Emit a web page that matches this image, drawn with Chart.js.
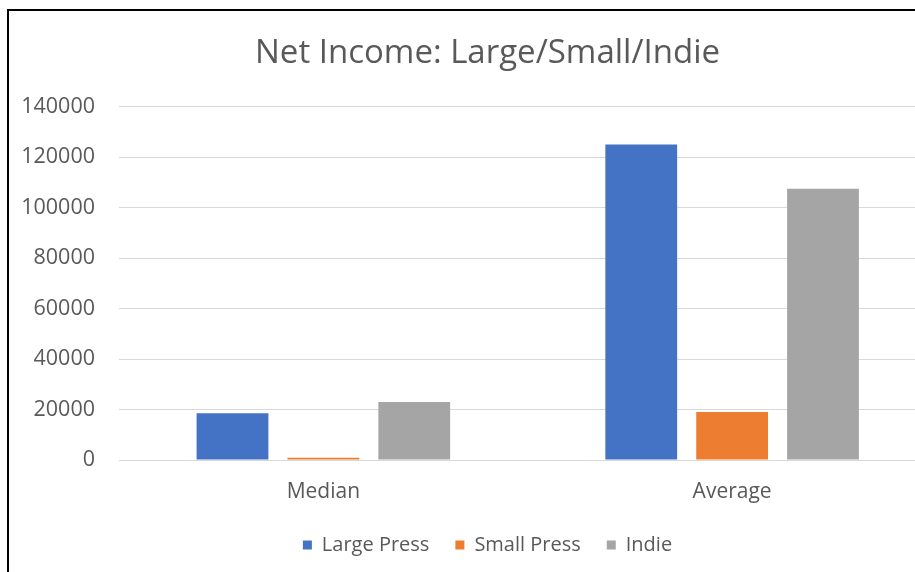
<!DOCTYPE html>
<html>
<head>
<meta charset="utf-8">
<script src="https://cdn.jsdelivr.net/npm/chart.js@4.4.1/dist/chart.umd.min.js"></script>
<style>
  html, body { margin: 0; padding: 0; background: #fff; overflow: hidden; width: 915px; height: 572px; }
  #frame { position: absolute; left: 7px; top: 9px; width: 1000px; height: 600px;
           border-left: 2px solid #000; border-top: 2px solid #000; }
  #wrap { position: absolute; left: 0px; top: 0px; width: 957px; height: 561px; }
</style>
</head>
<body>
<div id="frame"><div id="wrap"><canvas id="c"></canvas></div></div>
<script>
const categories = ["Median", "Average"];
const largePress = [18500, 125000];
const smallPress = [900, 19000];
const indie = [23000, 107500];
const seriesNames = ["Large Press", "Small Press", "Indie"];
const yTicks = [0, 20000, 40000, 60000, 80000, 100000, 120000, 140000];

const textColor = "#595959";
const gridColor = "#D9D9D9";
const fontFamily = "'Open Sans', sans-serif";

new Chart(document.getElementById("c"), {
  type: "bar",
  data: {
    labels: categories,
    datasets: [
      { label: seriesNames[0], data: largePress, backgroundColor: "#4472C4" },
      { label: seriesNames[1], data: smallPress, backgroundColor: "#ED7D31" },
      { label: seriesNames[2], data: indie, backgroundColor: "#A5A5A5" }
    ]
  },
  options: {
    responsive: true,
    maintainAspectRatio: false,
    animation: false,
    categoryPercentage: 0.667,
    barPercentage: 0.79,
    layout: { padding: { left: 0, right: 0, top: 0, bottom: 7 } },
    plugins: {
      title: {
        display: true,
        text: "Net Income: Large/Small/Indie",
        color: textColor,
        font: { family: fontFamily, size: 33, weight: "normal", lineHeight: 1.2 },
        padding: { top: 23, bottom: 33 }
      },
      legend: {
        position: "bottom",
        labels: {
          color: textColor,
          font: { family: fontFamily, size: 20 },
          boxWidth: 9,
          boxHeight: 9,
          padding: 26
        }
      },
      tooltip: { enabled: false }
    },
    scales: {
      x: {
        afterFit: (s) => { s.height = 49; },
        grid: { display: false, drawTicks: false },
        border: { display: true, color: gridColor, width: 1 },
        ticks: { color: textColor, font: { family: fontFamily, size: 21 }, padding: 19.5 }
      },
      y: {
        min: 0,
        max: 140000,
        afterBuildTicks: (s) => { s.ticks = yTicks.map(v => ({ value: v })); },
        afterFit: (s) => { s.width = 110; },
        grid: { color: gridColor, drawTicks: false },
        border: { display: false },
        ticks: {
          color: textColor,
          font: { family: fontFamily, size: 21.5 },
          padding: 24,
          callback: (v) => String(v)
        }
      },
      yRightSpace: {
        type: "linear",
        position: "right",
        display: true,
        afterFit: (s) => { s.width = 29.5; },
        grid: { display: false, drawTicks: false },
        border: { display: false },
        ticks: { display: false }
      }
    }
  }
});
</script>
</body>
</html>
